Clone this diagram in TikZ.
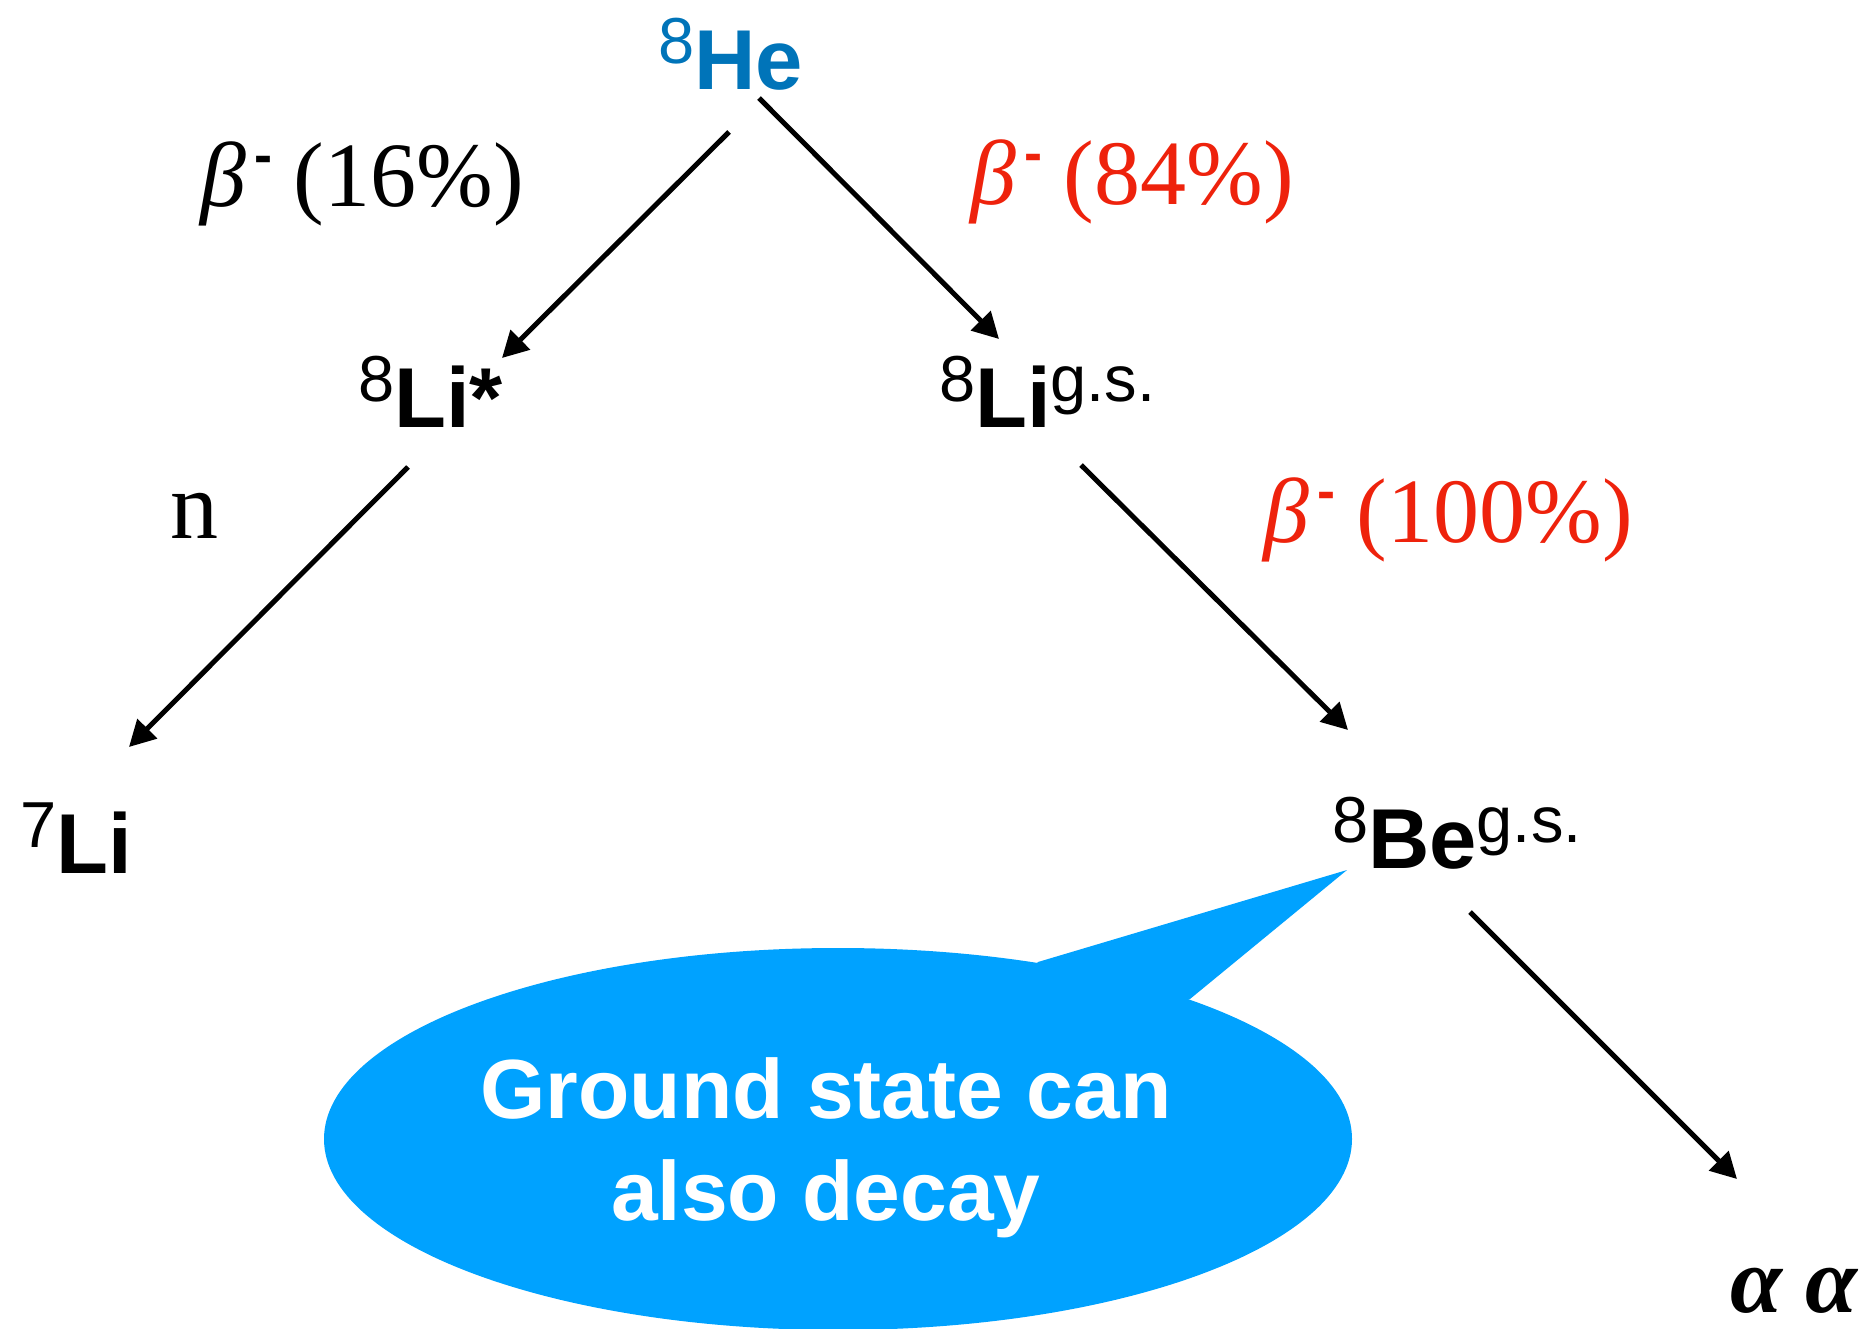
\documentclass[tikz,border=0pt]{standalone}
\usepackage{fontspec}
\setmainfont{Liberation Serif}
\setsansfont{Liberation Sans}
\usetikzlibrary{arrows.meta}
\definecolor{heblue}{RGB}{0,116,185}
\definecolor{decred}{RGB}{238,34,12}
\definecolor{bubblecol}{RGB}{0,162,255}
\newcommand\nucfont{\sffamily\fontsize{85}{85}\selectfont}
\newcommand\supnum[1]{\raisebox{26pt}{\fontsize{65}{65}\selectfont\mdseries #1}}
\newcommand\nucl[3]{{\nucfont\supnum{#1}\textbf{#2}\supnum{#3}}}
\newcommand\betalab[1]{{\fontsize{92}{92}\selectfont\textit{β}\hspace{9pt}\raisebox{33pt}{\sffamily\bfseries\fontsize{54}{54}\selectfont -}\hspace{-2pt}\ (#1\%)}}
\tikzset{
  lbl/.style={anchor=base west, inner sep=0pt, outer sep=0pt},
  arr/.style={line width=5pt, -{Triangle[length=26pt,width=27pt]}},
}
\begin{document}
\begin{tikzpicture}[x=1pt,y=-1pt]
\useasboundingbox (0,0) rectangle (1865,1329);
% nuclei
\node[lbl, text=heblue] (he) at (658,90) {\nucl{8}{He}{}};
\node[lbl] (listar) at (358,427) {\nucl{8}{Li*}{}};
\node[lbl] (ligs) at (939,427) {\nucl{8}{Li}{g.s.}};
\node[lbl] (li7) at (20,873) {\nucl{7}{Li}{}};
\node[lbl] (begs) at (1332,868) {\nucl{8}{Be}{g.s.}};
\node[lbl, text depth=0pt] (alphas) at (1730,1312) {\fontsize{94}{94}\selectfont\bfseries\itshape α α};
% decay labels
\node[lbl] (b16) at (200,207) {\betalab{16}};
\node[lbl, text=decred] (b84) at (970,205) {\betalab{84}};
\node[lbl, text=decred] (b100) at (1263,542) {\betalab{100}};
\node[lbl] (nlab) at (170,538) {\fontsize{96}{96}\selectfont n};
% arrow ends
\coordinate (a1s) at (729,132); \coordinate (a1e) at (502,358);
\coordinate (a2s) at (759,98);  \coordinate (a2e) at (999,339);
\coordinate (a3s) at (408,467); \coordinate (a3e) at (129,747);
\coordinate (a4s) at (1081,465); \coordinate (a4e) at (1348,730);
\coordinate (a5s) at (1470,912); \coordinate (a5e) at (1737,1179);
\draw[arr] (a1s) -- (a1e);
\draw[arr] (a2s) -- (a2e);
\draw[arr] (a3s) -- (a3e);
\draw[arr] (a4s) -- (a4e);
\draw[arr] (a5s) -- (a5e);
% speech bubble
\fill[bubblecol] (838,1139) ellipse [x radius=514, y radius=191];
\coordinate (tailL) at (1038,962);
\coordinate (tailtip) at (1347,870);
\coordinate (tailR) at (1190,999);
\fill[bubblecol] (tailL) -- (tailtip) -- (tailR) -- (900,1100) -- cycle;
\node[anchor=base, inner sep=0pt, text=white, align=center,
      font=\sffamily\bfseries\fontsize{84}{102}\selectfont] (bubbletext) at (826,1220)
      {Ground state can\\also decay};
\end{tikzpicture}
\end{document}
